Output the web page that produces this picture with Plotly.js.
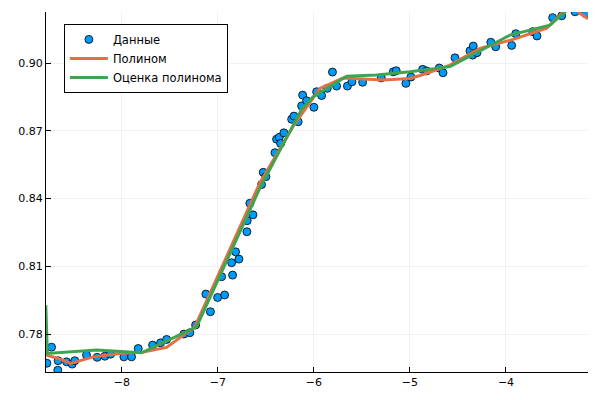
<!DOCTYPE html>
<html>
<head>
<meta charset="utf-8">
<script src="https://cdn.plot.ly/plotly-3.0.1.min.js"></script>
<style>html,body{margin:0;padding:0;background:#fff;}#chart{width:600px;height:400px;}</style>
</head>
<body>
<div id="chart"></div>
<script>
// Data points
const dataX = [-8.781,-8.732,-8.667,-8.664,-8.576,-8.518,-8.490,-8.368,-8.257,-8.177,
  -8.118,-7.979,-7.899,-7.830,-7.680,-7.597,-7.534,-7.354,-7.292,-7.232,
  -7.125,-7.078,-7.003,-6.930,-6.961,-6.847,-6.857,-6.781,-6.816,-6.698,
  -6.695,-6.635,-6.667,-6.545,-6.528,-6.500,-6.406,-6.389,-6.361,-6.347,
  -6.313,-6.232,-6.208,-6.164,-6.128,-6.118,-6.076,-6.000,-5.972,-5.920,
  -5.861,-5.807,-5.764,-5.651,-5.604,-5.493,-5.299,-5.174,-5.143,-5.042,
  -4.990,-4.868,-4.826,-4.695,-4.656,-4.531,-4.375,-4.341,-4.347,-4.302,
  -4.158,-4.107,-3.941,-3.898,-3.722,-3.677,-3.514,-3.420,-3.281,-3.172];
const dataY = [0.7671,0.7742,0.7640,0.7682,0.7677,0.7667,0.7682,0.7707,0.7697,0.7702,
  0.7711,0.7699,0.7699,0.7736,0.7751,0.7761,0.7776,0.7800,0.7806,0.7840,
  0.7977,0.7899,0.7962,0.7973,0.8054,0.8061,0.8116,0.8132,0.8164,0.8253,
  0.8302,0.8328,0.8379,0.8462,0.8516,0.8497,0.8603,0.8663,0.8671,0.8644,
  0.8691,0.8751,0.8765,0.8740,0.8810,0.8858,0.8833,0.8804,0.8873,0.8856,
  0.8888,0.8960,0.8898,0.8898,0.8917,0.8915,0.8934,0.8961,0.8966,0.8910,
  0.8938,0.8972,0.8965,0.8978,0.8957,0.9023,0.9054,0.9075,0.9035,0.9046,
  0.9092,0.9072,0.9078,0.9130,0.9139,0.9120,0.9201,0.9209,0.9227,0.9219];

// Polynomial curve
const polyX = [-8.790,-8.664,-8.534,-8.299,-8.021,-7.778,-7.534,-7.240,-6.563,-6.219,
  -5.938,-5.698,-5.278,-5.000,-4.878,-4.583,-4.271,-3.924,-3.576,-3.403,-3.280,-3.229,-3.146];
const polyY = [0.7707,0.7692,0.7670,0.7699,0.7714,0.7721,0.7741,0.7832,0.8469,0.8718,
  0.8888,0.8934,0.8925,0.8932,0.8947,0.8991,0.9065,0.9105,0.9154,0.9227,0.9244,0.9220,0.9196];

// Polynomial estimate
const estX = [-8.792,-8.776,-8.264,-7.795,-7.222,-6.563,-6.128,-6.007,-5.659,-5.347,
  -5.000,-4.583,-3.958,-3.542,-3.385,-3.330];
const estY = [0.7928,0.7714,0.7729,0.7717,0.7832,0.8446,0.8795,0.8851,0.8942,0.8947,
  0.8961,0.8984,0.9124,0.9168,0.9227,0.9280];

const yTicks = [0.78,0.81,0.84,0.87,0.90];
const yTickText = ["0.78","0.81","0.84","0.87","0.90"];
const xTicks = [-8,-7,-6,-5,-4];
const xTickText = ["\u22128","\u22127","\u22126","\u22125","\u22124"];

const traces = [
  {x: dataX, y: dataY, type: 'scatter', mode: 'markers', name: 'Данные',
   marker: {color: '#009AFA', size: 8, line: {color: '#000', width: 0.8}}},
  {x: polyX, y: polyY, type: 'scatter', mode: 'lines', name: 'Полином',
   line: {color: '#E26F46', width: 3}},
  {x: estX, y: estY, type: 'scatter', mode: 'lines', name: 'Оценка полинома',
   line: {color: '#3EA44E', width: 3}}
];

const axisCommon = {
  showgrid: true, gridcolor: 'rgba(0,0,0,0.08)', gridwidth: 0.7,
  zeroline: false, showline: true, linecolor: '#000', linewidth: 1, mirror: false,
  ticks: 'inside', ticklen: 5, tickcolor: '#000', tickwidth: 1,
  tickfont: {family: 'DejaVu Sans', size: 11, color: '#000'}
};

const layout = {
  width: 600, height: 400,
  margin: {l: 46, r: 12, t: 12, b: 28},
  paper_bgcolor: '#fff', plot_bgcolor: '#fff',
  font: {family: 'DejaVu Sans', size: 11, color: '#000'},
  xaxis: Object.assign({}, axisCommon, {range: [-8.79, -3.146], tickvals: xTicks, ticktext: xTickText}),
  yaxis: Object.assign({}, axisCommon, {range: [0.7632, 0.9226], tickvals: yTicks, ticktext: yTickText}),
  showlegend: true,
  legend: {x: 0.033, y: 0.967, xanchor: 'left', yanchor: 'top',
    bgcolor: '#fff', bordercolor: '#000', borderwidth: 1,
    font: {family: 'DejaVu Sans', size: 11.5, color: '#000'},
    tracegroupgap: 0, itemwidth: 38}
};

Plotly.newPlot('chart', traces, layout, {staticPlot: true, displayModeBar: false});
</script>
</body>
</html>
